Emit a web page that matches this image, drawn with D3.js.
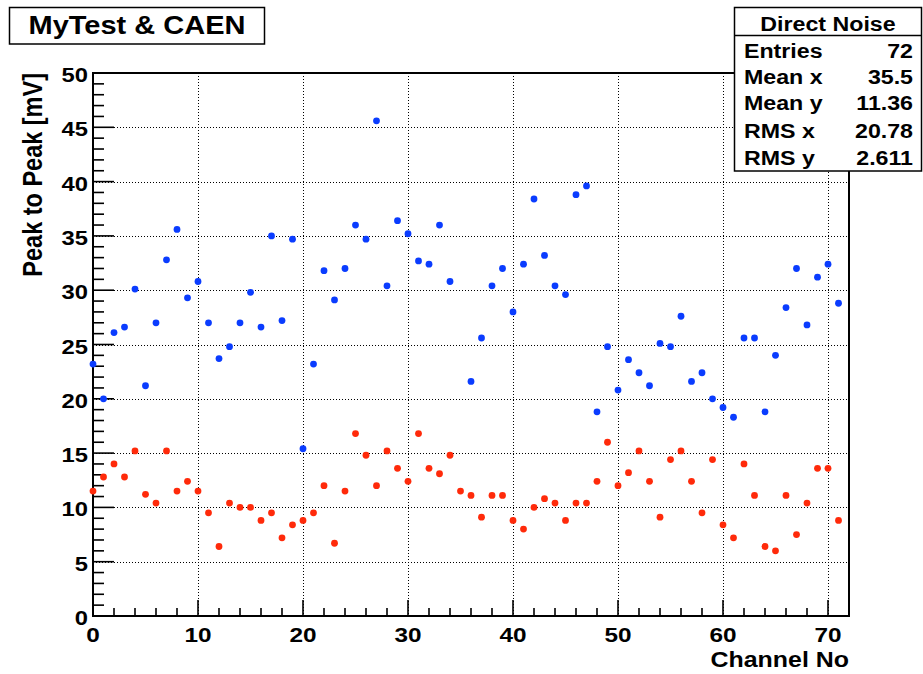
<!DOCTYPE html>
<html>
<head>
<meta charset="utf-8">
<script src="https://cdn.jsdelivr.net/npm/d3@7"></script>
<style>
  html, body { margin: 0; padding: 0; background: #fff; }
  svg { display: block; }
  text { font-family: "Liberation Sans", Arial, Helvetica, sans-serif; font-weight: bold; fill: #000; }
</style>
</head>
<body>
<svg id="chart" width="923" height="674"></svg>
<script>
// Channel numbers (x) and the two measured peak-to-peak series (y, mV)
const channels = [0,1,2,3,4,5,6,7,8,9,10,11,12,13,14,15,16,17,18,19,20,21,22,23,24,25,26,27,28,29,30,31,32,33,34,35,
                  36,37,38,39,40,41,42,43,44,45,46,47,48,49,50,51,52,53,54,55,56,57,58,59,60,61,62,63,64,65,66,67,68,69,70,71];

// MyTest series (blue); channel 35 has no point in range
const myTestNoise = [23.2,20.0,26.1,26.6,30.1,21.2,27.0,32.8,35.6,29.3,30.8,27.0,23.7,24.8,27.0,29.8,26.6,35.0,27.2,34.7,
                     15.4,23.2,31.8,29.1,32.0,36.0,34.7,45.6,30.4,36.4,35.2,32.7,32.4,36.0,30.8,null,21.6,25.6,30.4,32.0,
                     28.0,32.4,38.4,33.2,30.4,29.6,38.8,39.6,18.8,24.8,20.8,23.6,22.4,21.2,25.1,24.8,27.6,21.6,22.4,20.0,
                     19.2,18.3,25.6,25.6,18.8,24.0,28.4,32.0,26.8,31.2,32.4,28.8];

// CAEN direct noise series (red)
const directNoise = [11.5,12.8,14.0,12.8,15.2,11.2,10.4,15.2,11.5,12.4,11.5,9.5,6.4,10.4,10.0,10.0,8.8,9.5,7.2,8.4,
                     8.8,9.5,12.0,6.7,11.5,16.8,14.8,12.0,15.2,13.6,12.4,16.8,13.6,13.1,14.8,11.5,11.1,9.1,11.1,11.1,
                     8.8,8.0,10.0,10.8,10.4,8.8,10.4,10.4,12.4,16.0,12.0,13.2,15.2,12.4,9.1,14.4,15.2,12.4,9.5,14.4,
                     8.4,7.2,14.0,11.1,6.4,6.0,11.1,7.5,10.4,13.6,13.6,8.8];

const xMajorTicks = [0,10,20,30,40,50,60,70];
const xMinorTicks = [2,4,6,8,12,14,16,18,22,24,26,28,32,34,36,38,42,44,46,48,52,54,56,58,62,64,66,68,72];
const yMajorTicks = [0,5,10,15,20,25,30,35,40,45,50];
const yMinorTicks = [1,2,3,4,6,7,8,9,11,12,13,14,16,17,18,19,21,22,23,24,26,27,28,29,31,32,33,34,36,37,38,39,41,42,43,44,46,47,48,49];

const chartTitle = "MyTest & CAEN";
const xTitle = "Channel No";
const yTitle = "Peak to Peak [mV]";
const statsTitle = "Direct Noise";
const statLabels = ["Entries", "Mean x", "Mean y", "RMS x", "RMS y"];
const statValues = ["72", "35.5", "11.36", "20.78", "2.611"];

// ---- layout ----
const SX = 1.16;                       // horizontal text stretch
const padL = 93, padR = 849, padT = 73, padB = 616;
const svg = d3.select("#chart");

const x = d3.scaleLinear().domain([0, 72]).range([padL, padR]);
const y = d3.scaleLinear().domain([0, 50]).range([padB, padT]);

function label(parent, px, py, str, size, anchor, rotate) {
  return parent.append("text")
    .attr("transform", `translate(${px},${py}) scale(${SX},1)` + (rotate ? ` rotate(${rotate})` : ""))
    .attr("text-anchor", anchor)
    .style("font-size", size + "px")
    .text(str);
}

// dotted grid at major ticks
const grid = svg.append("g").attr("stroke", "#000").attr("stroke-width", 1)
  .attr("stroke-dasharray", "1,2").attr("shape-rendering", "crispEdges").attr("fill", "none");
grid.selectAll("line.gx").data(xMajorTicks.filter(d => d > 0)).join("line")
  .attr("x1", d => Math.round(x(d)) + 0.5).attr("x2", d => Math.round(x(d)) + 0.5)
  .attr("y1", padT).attr("y2", padB);
grid.selectAll("line.gy").data(yMajorTicks.filter(d => d > 0 && d < 50)).join("line")
  .attr("x1", padL).attr("x2", padR)
  .attr("y1", d => Math.round(y(d)) + 0.5).attr("y2", d => Math.round(y(d)) + 0.5);

// inward ticks, ROOT style
const ticks = svg.append("g").attr("stroke", "#000").attr("stroke-width", 1.6);
ticks.selectAll("line.yM").data(yMajorTicks).join("line")
  .attr("x1", padL).attr("x2", padL + 21).attr("y1", d => y(d)).attr("y2", d => y(d));
ticks.selectAll("line.ym").data(yMinorTicks).join("line")
  .attr("x1", padL).attr("x2", padL + 11).attr("y1", d => y(d)).attr("y2", d => y(d));
ticks.selectAll("line.xM").data(xMajorTicks).join("line")
  .attr("x1", d => x(d)).attr("x2", d => x(d)).attr("y1", padB).attr("y2", padB - 16);
ticks.selectAll("line.xm").data(xMinorTicks).join("line")
  .attr("x1", d => x(d)).attr("x2", d => x(d)).attr("y1", padB).attr("y2", padB - 8);

// frame
svg.append("rect").attr("x", padL).attr("y", padT).attr("width", padR - padL).attr("height", padB - padT)
  .attr("fill", "none").attr("stroke", "#000").attr("stroke-width", 2);

// tick labels
const tl = svg.append("g");
yMajorTicks.forEach(v => label(tl, 88, y(v) + 9, String(v), 20.5, "end"));
xMajorTicks.forEach(v => label(tl, x(v), padB + 26, String(v), 21, "middle"));

// axis titles
label(svg, padR, 667, xTitle, 21.5, "end");
label(svg, 42, padT, yTitle, 23.5, "end", -90);

// markers
const pts = svg.append("g");
pts.selectAll("circle.blue").data(channels.filter(c => myTestNoise[c] != null)).join("circle")
  .attr("cx", c => x(c)).attr("cy", c => y(myTestNoise[c])).attr("r", 3.4).attr("fill", "#0a3cff");
pts.selectAll("circle.red").data(channels).join("circle")
  .attr("cx", c => x(c)).attr("cy", c => y(directNoise[c])).attr("r", 3.4).attr("fill", "#ff2a0a");

// title box
svg.append("rect").attr("x", 9.5).attr("y", 7.5).attr("width", 255).attr("height", 36.5)
  .attr("fill", "#fff").attr("stroke", "#000").attr("stroke-width", 1.5);
label(svg, 137, 34, chartTitle, 25, "middle");

// statistics box
const sb = svg.append("g");
sb.append("rect").attr("x", 734.5).attr("y", 7.5).attr("width", 187).attr("height", 163.5)
  .attr("fill", "#fff").attr("stroke", "#000").attr("stroke-width", 1.5);
sb.append("line").attr("x1", 734.5).attr("x2", 921.5).attr("y1", 35.5).attr("y2", 35.5)
  .attr("stroke", "#000").attr("stroke-width", 1.5);
label(sb, 828, 31, statsTitle, 20, "middle");
const rowY = [58, 84, 110, 138, 165];
statLabels.forEach((s, i) => label(sb, 744, rowY[i], s, 20, "start"));
statValues.forEach((s, i) => label(sb, 913, rowY[i], s, 20, "end"));
</script>
</body>
</html>
